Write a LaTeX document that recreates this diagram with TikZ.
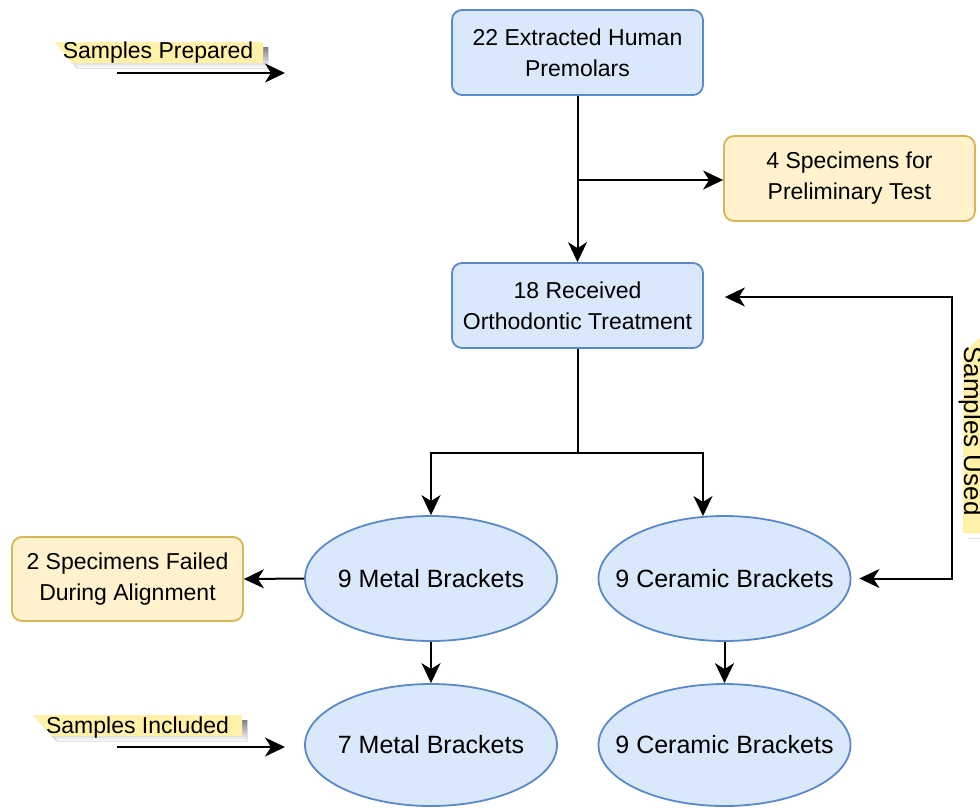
\documentclass[tikz,border=0pt]{standalone}
\usepackage{fontspec}
\setmainfont{Liberation Sans}
\usetikzlibrary{arrows.meta,shapes.geometric}
\definecolor{bfill}{HTML}{DAE8FC}
\definecolor{bline}{HTML}{5A8AC6}
\definecolor{yfill}{HTML}{FFF2CC}
\definecolor{yline}{HTML}{D6B656}
\definecolor{lfill}{HTML}{FFF2A8}
\definecolor{shade}{HTML}{C8C8C8}
\begin{document}
\begin{tikzpicture}[x=1pt,y=-1pt,
  bbox/.style={draw=bline,fill=bfill,line width=1.8pt,rounded corners=10pt,minimum width=251pt,minimum height=85pt,align=center,font=\fontsize{23}{31}\selectfont,inner sep=0pt},
  ybox/.style={bbox,draw=yline,fill=yfill},
  ell/.style={ellipse,draw=bline,fill=bfill,line width=1.8pt,minimum width=252pt,minimum height=125pt,font=\fontsize{25}{30}\selectfont,inner sep=0pt},
  tip/.tip={Stealth[length=20pt,width=19pt,inset=6pt]},
  conn/.style={line width=2pt,-tip},
  plain/.style={line width=2pt},
  lbl/.style={font=\fontsize{23}{28}\selectfont,inner sep=0pt}]
\useasboundingbox (0,0) rectangle (980,807);
\clip (0,0) rectangle (980,807);
\fill[white] (0,0) rectangle (980,807);

% main nodes
\node[bbox] (n22) at (577.5,52.5) {22 Extracted Human\\Premolars};
\node[ybox] (n4) at (849.5,178.5) {4 Specimens for\\Preliminary Test};
\node[bbox] (n18) at (577.5,305.5) {18 Received\\Orthodontic Treatment};
\node[ell] (m9) at (431,578.5) {\makebox[0pt]{9 Metal Brackets}};
\node[ell] (c9) at (724.5,578.5) {\makebox[0pt]{9 Ceramic Brackets}};
\node[ybox,minimum width=231pt,minimum height=84pt] (f2) at (127.5,579) {2 Specimens Failed\\During Alignment};
\node[ell,minimum height=122pt] (m7) at (431,745) {\makebox[0pt]{7 Metal Brackets}};
\node[ell,minimum height=122pt] (c7) at (724.5,745) {\makebox[0pt]{9 Ceramic Brackets}};

% connectors
\draw[conn] (n22.south) -- (n18.north);
\coordinate (br1) at (577.5,180);
\draw[conn] (br1) -- (br1 -| n4.west);
\coordinate (br2) at (577.5,453);
\draw[plain] (n18.south) -- (br2);
\draw[conn] (br2) -| (m9.north);
\draw[conn] (br2) -| (c9.109);
\draw[conn] (m9.west) -- (f2.east);
\draw[conn] (m9.south) -- (m7.north);
\draw[conn] (c9.south) -- (c7.north);
\coordinate (lt) at (952,297);
\draw[line width=2pt,tip-tip,shorten <=8pt,shorten >=21pt]
  (c9.east) -| (lt) -- (lt -| n18.east);

% side labels
\fill[shade] (60,47) -- (268,47) -- (268,68) -- (77,68) -- cycle;
\fill[lfill] (55,42) -- (263,42) -- (263,63) -- (72,63) -- cycle;
\node[lbl,anchor=base] (sp) at (158,58) {Samples Prepared};
\coordinate (spa) at (117,73);
\coordinate (spb) at (285,73);
\draw[conn] (spa) -- (spb);

\fill[shade] (38,720) -- (247,720) -- (247,741) -- (57,741) -- cycle;
\fill[lfill] (33,715) -- (242,715) -- (242,736) -- (52,736) -- cycle;
\node[lbl,anchor=base] (si) at (137.5,733) {Samples Included};
\coordinate (sia) at (117,747);
\coordinate (sib) at (285,747);
\draw[conn] (sia) -- (sib);

\fill[shade] (968,358) -- (989,339) -- (989,538) -- (968,538) -- cycle;
\fill[lfill] (963,353) -- (984,334) -- (984,533) -- (963,533) -- cycle;
\node[lbl,font=\fontsize{26}{30}\selectfont,rotate=-90,anchor=base] (su) at (964,431) {Samples Used};
\end{tikzpicture}
\end{document}
